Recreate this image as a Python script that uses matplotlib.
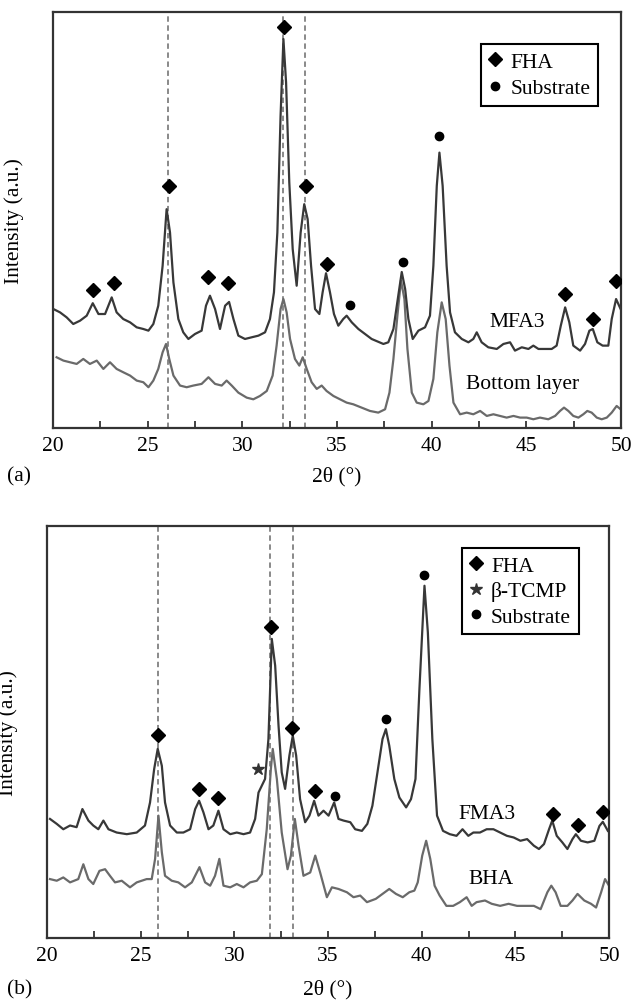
import matplotlib
matplotlib.use("Agg")
import matplotlib.pyplot as plt
from matplotlib.lines import Line2D
from matplotlib.ticker import MultipleLocator

plt.rcParams['font.family'] = ['Liberation Serif', 'DejaVu Serif']

# ---------------- Panel (a) data ----------------
mfa3_x = [20.02, 20.37, 20.72, 21.07, 21.43, 21.78, 22.1, 22.4, 22.75, 23.1, 23.36, 23.71, 24.07,
          24.42, 24.77, 25.04, 25.3, 25.56, 25.79, 26.0, 26.18, 26.36, 26.62, 26.88, 27.15, 27.5,
          27.85, 28.08, 28.29, 28.56, 28.82, 29.09, 29.3, 29.53, 29.79, 30.14, 30.49, 30.85, 31.2,
          31.46, 31.67, 31.85, 32.02, 32.17, 32.31, 32.48, 32.66, 32.87, 33.08, 33.27, 33.45, 33.63,
          33.84, 34.07, 34.24, 34.42, 34.63, 34.84, 35.07, 35.33, 35.51, 35.78, 36.13, 36.48, 36.83,
          37.45, 37.71, 37.98, 38.21, 38.42, 38.6, 38.77, 39.0, 39.3, 39.65, 39.91, 40.09, 40.27,
          40.41, 40.58, 40.79, 40.97, 41.23, 41.59, 41.94, 42.2, 42.38, 42.64, 42.99, 43.44, 43.79,
          44.14, 44.4, 44.76, 45.11, 45.37, 45.64, 45.99, 46.34, 46.6, 46.82, 47.05, 47.27, 47.48,
          47.84, 48.1, 48.33, 48.51, 48.75, 49.03, 49.33, 49.51, 49.74, 49.98]
mfa3_y = [28.6, 27.8, 26.6, 25.0, 25.8, 27.0, 30.0, 27.4, 27.4, 31.4, 27.8, 26.2, 25.4,
          24.2, 23.8, 23.4, 25.0, 29.4, 39.0, 52.6, 47.0, 35.0, 26.2, 23.0, 21.4, 22.6,
          23.4, 29.4, 31.8, 28.6, 23.8, 29.4, 30.3, 26.2, 22.2, 21.4, 21.8, 22.2, 23.0,
          26.2, 32.6, 47.0, 75.1, 93.5, 83.1, 59.0, 43.0, 34.2, 47.0, 53.8, 50.2, 39.0,
          28.6, 27.4, 32.6, 37.2, 32.6, 27.4, 24.6, 26.2, 27.0, 25.4, 23.8, 22.6, 21.4,
          20.2, 20.6, 23.8, 31.0, 37.5, 33.4, 26.2, 21.4, 23.4, 24.2, 27.0, 39.0, 58.2,
          66.2, 58.2, 39.0, 27.8, 23.0, 21.4, 20.6, 21.4, 23.0, 20.6, 19.4, 19.0, 20.2,
          20.6, 18.6, 19.4, 19.0, 19.8, 19.0, 19.0, 19.0, 19.8, 24.6, 29.0, 25.4, 19.8,
          18.6, 20.2, 23.4, 23.8, 20.6, 19.8, 19.8, 26.2, 31.0, 28.6]

bottom_x = [20.19, 20.55, 20.9, 21.25, 21.6, 21.95, 22.31, 22.66, 23.01, 23.36, 23.71, 24.07,
            24.42, 24.77, 25.04, 25.3, 25.56, 25.79, 25.97, 26.14, 26.36, 26.71, 27.06, 27.41,
            27.85, 28.21, 28.56, 28.91, 29.17, 29.44, 29.79, 30.23, 30.58, 30.93, 31.29, 31.6,
            31.81, 32.02, 32.17, 32.34, 32.52, 32.78, 33.01, 33.19, 33.4, 33.66, 33.93, 34.19,
            34.45, 34.81, 35.16, 35.51, 35.86, 36.3, 36.74, 37.18, 37.54, 37.77, 37.98, 38.19,
            38.38, 38.56, 38.72, 38.95, 39.21, 39.56, 39.83, 40.09, 40.3, 40.53, 40.74, 40.94,
            41.15, 41.5, 41.85, 42.2, 42.56, 42.91, 43.26, 43.61, 43.96, 44.32, 44.67, 45.02,
            45.37, 45.72, 46.16, 46.52, 46.78, 46.99, 47.22, 47.48, 47.75, 48.01, 48.22, 48.45,
            48.72, 48.98, 49.25, 49.51, 49.77, 49.98]
bottom_y = [17.0, 16.2, 15.8, 15.4, 16.6, 15.4, 16.2, 14.2, 15.8, 14.2, 13.4, 12.6,
            11.4, 11.0, 9.8, 11.4, 14.2, 18.2, 20.2, 16.6, 12.6, 10.2, 9.8, 10.2,
            10.6, 12.2, 10.6, 10.2, 11.4, 10.2, 8.5, 7.3, 6.9, 7.7, 8.9, 12.6,
            19.8, 28.6, 31.0, 27.8, 21.4, 16.6, 15.0, 17.0, 14.2, 11.0, 9.4, 10.2,
            8.9, 7.7, 6.9, 6.1, 5.7, 4.9, 4.1, 3.7, 4.5, 8.5, 16.6, 27.0,
            35.5, 31.0, 19.0, 8.5, 6.1, 5.7, 6.5, 11.8, 23.0, 30.2, 26.2, 15.0,
            6.1, 3.3, 3.7, 3.3, 4.1, 2.9, 3.3, 2.9, 2.5, 2.9, 2.5, 2.5,
            2.1, 2.5, 2.1, 2.9, 4.1, 4.9, 4.1, 2.9, 2.5, 3.3, 4.1, 3.7,
            2.5, 2.1, 2.5, 3.7, 5.3, 4.5]

a_fha_x = [22.13, 23.22, 26.14, 28.2, 29.26, 32.2, 33.35, 34.49, 47.04, 48.54, 49.74]
a_fha_y = [33.1, 34.8, 58.2, 36.4, 34.8, 96.3, 58.2, 39.4, 32.3, 26.2, 35.4]
a_sub_x = [35.69, 38.47, 40.41]
a_sub_y = [29.5, 39.8, 70.1]
a_dashes = [26.05, 32.15, 33.3]

# ---------------- Panel (b) data ----------------
fma3_x = [20.16, 20.52, 20.87, 21.23, 21.58, 21.89, 22.21, 22.47, 22.74, 23.01, 23.28, 23.72,
          24.26, 24.79, 25.23, 25.5, 25.72, 25.91, 26.13, 26.3, 26.57, 26.93, 27.28, 27.64,
          27.91, 28.12, 28.35, 28.62, 28.88, 29.15, 29.42, 29.78, 30.13, 30.49, 30.84, 31.11,
          31.29, 31.47, 31.64, 31.82, 32.0, 32.18, 32.36, 32.53, 32.71, 32.94, 33.12, 33.3,
          33.51, 33.78, 34.01, 34.26, 34.49, 34.76, 35.03, 35.33, 35.56, 35.83, 36.19, 36.45,
          36.81, 37.1, 37.37, 37.64, 37.91, 38.09, 38.27, 38.54, 38.81, 39.17, 39.43, 39.67,
          39.88, 40.15, 40.33, 40.57, 40.82, 41.14, 41.5, 41.86, 42.18, 42.49, 42.76, 43.11,
          43.47, 43.83, 44.19, 44.55, 44.91, 45.27, 45.63, 45.99, 46.26, 46.53, 46.8, 46.97,
          47.21, 47.51, 47.78, 48.05, 48.23, 48.5, 48.86, 49.22, 49.49, 49.67, 49.94]
fma3_y = [28.9, 27.7, 26.4, 27.3, 26.9, 31.3, 28.5, 27.3, 26.4, 28.5, 26.4, 25.6,
          25.2, 25.6, 27.3, 32.9, 41.0, 45.9, 41.8, 32.9, 27.3, 25.6, 25.6, 26.4,
          31.3, 33.3, 30.5, 26.4, 27.3, 30.9, 26.4, 25.2, 25.6, 25.2, 25.6, 28.9,
          35.3, 37.0, 38.6, 48.3, 72.6, 66.1, 51.5, 40.2, 36.2, 44.3, 49.1, 44.3,
          33.7, 28.1, 29.7, 33.3, 29.7, 30.9, 29.7, 32.9, 28.9, 28.5, 28.1, 26.4,
          26.0, 27.7, 32.1, 40.2, 48.3, 50.7, 46.7, 38.6, 34.1, 31.7, 33.7, 38.6,
          60.4, 85.5, 74.2, 48.3, 29.7, 26.0, 25.2, 24.8, 26.4, 24.8, 25.6, 25.6,
          26.4, 26.4, 25.6, 24.8, 24.4, 23.6, 24.0, 22.4, 21.6, 22.8, 26.4, 28.5,
          24.8, 23.2, 21.6, 24.0, 25.2, 23.6, 23.2, 23.6, 27.2, 28.2, 26.0]

bha_x = [20.16, 20.52, 20.87, 21.23, 21.67, 21.94, 22.21, 22.47, 22.8, 23.1, 23.36, 23.63,
         23.99, 24.43, 24.79, 25.32, 25.59, 25.77, 25.95, 26.13, 26.3, 26.66, 27.01, 27.37,
         27.73, 28.14, 28.44, 28.71, 28.97, 29.2, 29.42, 29.78, 30.13, 30.49, 30.84, 31.2,
         31.47, 31.73, 31.95, 32.05, 32.27, 32.53, 32.84, 33.02, 33.23, 33.43, 33.69, 34.05,
         34.32, 34.58, 34.94, 35.21, 35.56, 36.01, 36.36, 36.72, 37.08, 37.55, 37.91, 38.27,
         38.63, 38.99, 39.34, 39.61, 39.79, 40.03, 40.24, 40.46, 40.69, 40.96, 41.32, 41.68,
         42.04, 42.4, 42.67, 42.93, 43.38, 43.74, 44.19, 44.64, 45.09, 45.54, 45.99, 46.35,
         46.71, 46.92, 47.15, 47.42, 47.78, 48.05, 48.32, 48.68, 49.04, 49.31, 49.58, 49.79,
         50.0]
bha_y = [14.3, 13.9, 14.7, 13.5, 14.3, 17.9, 14.3, 13.1, 16.3, 16.7, 15.1, 13.5,
         13.9, 12.3, 13.5, 14.3, 14.3, 19.2, 29.7, 20.8, 15.1, 13.9, 13.5, 12.3,
         13.5, 17.2, 13.5, 12.7, 15.1, 19.2, 12.7, 12.3, 13.1, 12.3, 13.5, 13.9,
         15.5, 26.4, 41.0, 45.9, 38.6, 25.6, 16.7, 20.0, 28.9, 22.4, 15.1, 15.9,
         20.0, 15.9, 9.9, 12.3, 11.9, 11.1, 9.9, 10.3, 8.7, 9.5, 10.7, 11.9,
         10.7, 9.9, 11.1, 11.5, 13.5, 20.0, 23.6, 19.2, 12.7, 10.3, 7.8, 7.8,
         8.7, 9.9, 7.8, 8.7, 9.1, 8.3, 7.8, 8.3, 7.8, 7.8, 7.8, 7.0,
         11.1, 12.7, 11.1, 7.8, 7.8, 9.1, 10.7, 9.1, 8.3, 7.4, 11.1, 14.3,
         12.7]

b_fha_x = [25.91, 28.12, 29.15, 31.97, 33.09, 34.32, 47.03, 48.32, 49.67]
b_fha_y = [49.3, 36.2, 34.1, 75.6, 51.0, 35.7, 30.1, 27.5, 30.7]
b_tcmp_x = [31.29]
b_tcmp_y = [41.0]
b_sub_x = [35.35, 38.12, 40.15]
b_sub_y = [34.5, 53.2, 88.1]
b_dashes = [25.9, 31.9, 33.15]

FS = 15.5
C_DARK = '#383838'
C_LIGHT = '#6a6a6a'
C_DASH = '#808080'

fig = plt.figure(figsize=(6.31, 10.03), dpi=100)
ax1 = fig.add_axes([53 / 631, 1 - 429 / 1003, 568 / 631, 416 / 1003])
ax2 = fig.add_axes([47 / 631, 1 - 939 / 1003, 562 / 631, 412 / 1003])


def style_axes(ax):
    ax.set_xlim(20, 50)
    ax.set_ylim(0, 100)
    ax.set_yticks([])
    ax.xaxis.set_major_locator(MultipleLocator(5))
    ax.xaxis.set_minor_locator(MultipleLocator(2.5))
    ax.tick_params(axis='x', which='both', direction='in', length=5, width=1.3,
                   color='#333333', labelsize=FS, pad=6, top=False)
    for s in ax.spines.values():
        s.set_linewidth(1.6)
        s.set_color('#333333')
    ax.set_ylabel('Intensity (a.u.)', fontsize=FS)
    ax.set_xlabel('2θ (°)', fontsize=FS)


# ---- Panel (a)
for d in a_dashes:
    ax1.axvline(d, color=C_DASH, lw=1.3, ls=(0, (3, 2)), zorder=1)
ax1.plot(bottom_x, bottom_y, color=C_LIGHT, lw=1.6, zorder=2)
ax1.plot(mfa3_x, mfa3_y, color=C_DARK, lw=1.6, zorder=3)
ax1.plot(a_fha_x, a_fha_y, ls='none', marker='D', ms=7, color='k', zorder=4)
ax1.plot(a_sub_x, a_sub_y, ls='none', marker='o', ms=6, color='k', zorder=4)
ax1.text(44.5, 25.6, 'MFA3', fontsize=FS, ha='center', va='center')
ax1.text(44.8, 10.6, 'Bottom layer', fontsize=FS, ha='center', va='center')
style_axes(ax1)
ax1.yaxis.set_label_coords(-0.051, 0.5)
ax1.xaxis.set_label_coords(0.5, -0.115)
ax1.xaxis.label.set_va('center')

h_a = [Line2D([], [], ls='none', marker='D', ms=7, color='k'),
       Line2D([], [], ls='none', marker='o', ms=6, color='k')]
leg1 = ax1.legend(h_a, ['FHA', 'Substrate'], loc='upper right', bbox_to_anchor=(0.959, 0.923),
                  borderaxespad=0, fancybox=False, edgecolor='k', fontsize=FS,
                  handlelength=0.6, handletextpad=0.4, labelspacing=0.3, borderpad=0.35,
                  framealpha=1)
leg1.get_frame().set_linewidth(1.5)

# ---- Panel (b)
for d in b_dashes:
    ax2.axvline(d, color=C_DASH, lw=1.3, ls=(0, (3, 2)), zorder=1)
ax2.plot(bha_x, bha_y, color=C_LIGHT, lw=1.6, zorder=2)
ax2.plot(fma3_x, fma3_y, color=C_DARK, lw=1.6, zorder=3)
ax2.plot(b_fha_x, b_fha_y, ls='none', marker='D', ms=7, color='k', zorder=4)
ax2.plot(b_sub_x, b_sub_y, ls='none', marker='o', ms=6, color='k', zorder=4)
ax2.plot(b_tcmp_x, b_tcmp_y, ls='none', marker='*', ms=9, color='#333333', zorder=4)
ax2.text(43.5, 30.1, 'FMA3', fontsize=FS, ha='center', va='center')
ax2.text(43.7, 14.4, 'BHA', fontsize=FS, ha='center', va='center')
style_axes(ax2)
ax2.yaxis.set_label_coords(-0.052, 0.5)
ax2.xaxis.set_label_coords(0.5, -0.124)
ax2.xaxis.label.set_va('center')

h_b = [Line2D([], [], ls='none', marker='D', ms=7, color='k'),
       Line2D([], [], ls='none', marker='*', ms=9, color='#333333'),
       Line2D([], [], ls='none', marker='o', ms=6, color='k')]
leg2 = ax2.legend(h_b, ['FHA', 'β-TCMP', 'Substrate'], loc='upper right',
                  bbox_to_anchor=(0.946, 0.946), borderaxespad=0, fancybox=False,
                  edgecolor='k', fontsize=FS, handlelength=0.6, handletextpad=0.4,
                  labelspacing=0.25, borderpad=0.35, framealpha=1)
leg2.get_frame().set_linewidth(1.5)

fig.text(7 / 631, 1 - 477 / 1003, '(a)', fontsize=FS, ha='left', va='center')
fig.text(7 / 631, 1 - 990 / 1003, '(b)', fontsize=FS, ha='left', va='center')

fig.savefig('out.png', dpi=100)
